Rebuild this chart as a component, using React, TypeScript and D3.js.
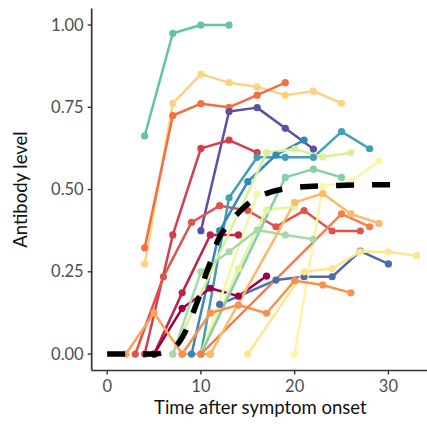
import React from "react";
import * as d3 from "d3";

type P = [number, number];

// Individual antibody trajectories (time after onset, antibody level)
const sTeal: P[] = [[4, 0.663], [7, 0.975], [10, 1], [13, 1]];
const sGold: P[] = [[4, 0.274], [7, 0.762], [10, 0.851], [13, 0.825], [16, 0.812], [19, 0.787], [22, 0.799], [25, 0.762]];
const sOrangeRed: P[] = [[4, 0.323], [7, 0.725], [10, 0.761], [13, 0.75], [16, 0.787], [19, 0.825]];
const sPurple: P[] = [[10, 0.375], [13, 0.737], [16, 0.749], [19, 0.686], [22, 0.623]];
const sCrimson: P[] = [[4, 0], [7, 0.362], [10, 0.625], [13, 0.65], [16, 0.612]];
const sRed: P[] = [[3, 0], [6, 0.235], [9, 0.4], [12, 0.451], [15, 0.436], [18, 0.387], [21, 0.436], [24, 0.374], [27, 0.374]];
const sTealBlue: P[] = [[10, 0], [13, 0.475], [16, 0.598], [19, 0.598], [22, 0.598], [25, 0.676], [28, 0.624]];
const sBlue: P[] = [[9, 0], [12, 0.375], [15, 0.524], [18, 0.605], [21, 0.65]];
const sRose: P[] = [[5, 0], [8, 0.186], [11, 0.362], [14, 0.362]];
const sMaroon: P[] = [[5, 0], [8, 0.139], [11, 0.2], [14, 0.176], [17, 0.237]];
const sSlate: P[] = [[12, 0.151], [18, 0.225], [21, 0.235], [24, 0.235], [27, 0.313], [30, 0.274]];
const sLime1: P[] = [[7, 0], [17, 0.612], [20, 0.623], [23, 0.599], [26, 0.612]];
const sLime2: P[] = [[10, 0], [16, 0.486]];
const sLime3: P[] = [[10, 0], [14, 0.26], [17, 0.438], [20, 0.448]];
const sGreen1: P[] = [[7, 0], [10, 0.25], [13, 0.311], [16, 0.377], [19, 0.362], [22, 0.349]];
const sGreen2: P[] = [[10, 0], [19, 0.537], [22, 0.562], [25, 0.537]];
const sPale: P[] = [[20, 0], [23, 0.51], [26, 0.524], [29, 0.587]];
const sYellow: P[] = [[15, 0], [21, 0.25], [24, 0.26], [27, 0.311], [30, 0.311], [33, 0.299]];
const sOrange1: P[] = [[2, 0], [5, 0.125], [8, 0], [11, 0]];
const sOrange2: P[] = [[8, 0], [11, 0.125], [14, 0.149], [17, 0.124], [20, 0.223], [23, 0.21], [26, 0.186]];
const sOrange3: P[] = [[10, 0], [25, 0.426], [28, 0.387]];
const sApricot: P[] = [[11, 0], [20, 0.461], [23, 0.488], [26, 0.426], [29, 0.397]];

// Mean curve (dashed)
const meanCurve: P[] = [[0, 0], [5, 0], [6, 0.005], [7, 0.018], [7.6, 0.033], [8.5, 0.078], [9.4, 0.143], [10, 0.19], [10.5, 0.24], [11.1, 0.286], [11.8, 0.345], [12.9, 0.392], [14.3, 0.438], [15.5, 0.467], [17.5, 0.493], [19.3, 0.504], [21.4, 0.509], [25.3, 0.513], [31, 0.515]];

const seriesList: P[][] = [sTeal, sGold, sOrangeRed, sPurple, sCrimson, sRed, sTealBlue, sBlue, sRose, sMaroon, sSlate, sLime1, sLime2, sLime3, sGreen1, sGreen2, sPale, sYellow, sOrange1, sOrange2, sOrange3, sApricot];
const seriesColors: string[] = ["#66C2A5", "#FED27F", "#F46D43", "#5E4FA2", "#D53E4F", "#E1524A", "#449FB4", "#3288BD", "#BE2449", "#9E0142", "#4A6CAF", "#DCF09A", "#EEF8A8", "#E4F49C", "#A6DAA4", "#86CEA5", "#FFF3A6", "#FEE593", "#FBA35B", "#F8914F", "#F57E4A", "#FDB86A"];

const xTicks = [0, 10, 20, 30];
const yTicks = [0, 0.25, 0.5, 0.75, 1.0];
const yTickLabels = ["0.00", "0.25", "0.50", "0.75", "1.00"];

export default function App() {
  const W = 427, H = 424;
  const left = 91.7, right = 432, top = 8.6, bottom = 370.5;
  const x = d3.scaleLinear().domain([-1.65, 34.65]).range([left, right]);
  const y = d3.scaleLinear().domain([-0.05, 1.05]).range([bottom, top]);
  const line = d3.line<P>().x(d => x(d[0])).y(d => y(d[1]));
  const meanLine = d3.line<P>().x(d => x(d[0])).y(d => y(d[1])).curve(d3.curveMonotoneX);
  const font = "Lato, 'Noto Sans', sans-serif";
  const axisCol = "#333333";
  const tickCol = "#4D4D4D";
  return (
    <svg width={W} height={H} style={{ position: "absolute", left: 0, top: 0 }} fontFamily={font}>
      <rect x={0} y={0} width={W} height={H} fill="#fff" />
      {seriesList.map((s, i) => (
        <path key={"l" + i} d={line(s) || ""} fill="none" stroke={seriesColors[i]} strokeWidth={2.5} strokeLinejoin="round" />
      ))}
      {seriesList.map((s, i) => s.map((d, j) => (
        <circle key={"p" + i + "-" + j} cx={x(d[0])} cy={y(d[1])} r={3.6} fill={seriesColors[i]} />
      )))}
      <path d={meanLine(meanCurve) || ""} fill="none" stroke="#000" strokeWidth={5.5} strokeDasharray="18,18" />
      {/* axes */}
      <line x1={left} x2={left} y1={top} y2={bottom} stroke={axisCol} strokeWidth={1.7} />
      <line x1={left} x2={W} y1={bottom} y2={bottom} stroke={axisCol} strokeWidth={1.7} />
      {xTicks.map(t => (
        <g key={"xt" + t}>
          <line x1={x(t)} x2={x(t)} y1={bottom} y2={bottom + 4} stroke={axisCol} strokeWidth={1.4} />
          <text x={x(t)} y={bottom + 21} textAnchor="middle" fontSize={16.5} fill={tickCol}>{t}</text>
        </g>
      ))}
      {yTicks.map((t, i) => (
        <g key={"yt" + t}>
          <line x1={left - 4} x2={left} y1={y(t)} y2={y(t)} stroke={axisCol} strokeWidth={1.4} />
          <text x={left - 8} y={y(t) + 5.6} textAnchor="end" fontSize={16.5} fill={tickCol}>{yTickLabels[i]}</text>
        </g>
      ))}
      <text x={(left + W) / 2 + 1} y={414} textAnchor="middle" fontSize={18.5} fill="#111">Time after symptom onset</text>
      <text transform={`translate(27, ${(top + bottom) / 2}) rotate(-90)`} textAnchor="middle" fontSize={18.5} fill="#111">Antibody level</text>
    </svg>
  );
}
